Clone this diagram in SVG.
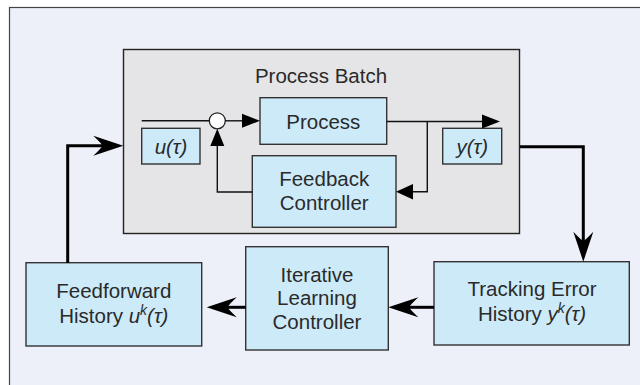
<svg xmlns="http://www.w3.org/2000/svg" width="640" height="385" viewBox="0 0 640 385">
  <style>
    .frame { fill: #edf0f8; stroke: #444; stroke-width: 1.2; }
    .batch { fill: #e5e5e7; stroke: #222; stroke-width: 1.4; }
    .box { fill: #cdeaf9; stroke: #333; stroke-width: 1.4; }
    .sum { fill: #ffffff; stroke: #222; stroke-width: 1.3; }
    text { font-family: "Liberation Sans", Arial, sans-serif; font-size: 20.5px; fill: #2a2a2a; text-anchor: middle; }
    .it { font-style: italic; }
    .sup { font-size: 14px; }
    .thin { fill: none; stroke: #111; stroke-width: 1.4; }
    .thick { fill: none; stroke: #000; stroke-width: 3; }
    .head { fill: #000; stroke: none; }
  </style>

  <!-- background panel -->
  <rect class="frame" x="9.5" y="7.5" width="640" height="390"/>

  <!-- process batch container -->
  <g id="process-batch">
    <rect class="batch" x="123.5" y="49.5" width="396" height="184"/>
    <text x="321" y="83">Process Batch</text>
  </g>

  <g id="summing-junction">
    <circle class="sum" cx="217.3" cy="120.8" r="8"/>
  </g>

  <g id="process">
    <rect class="box" x="260" y="97.7" width="126.7" height="46.6"/>
    <text x="323.3" y="128.5">Process</text>
  </g>

  <g id="feedback-controller">
    <rect class="box" x="252.3" y="155.7" width="143.7" height="71.6"/>
    <text x="324.2" y="186">Feedback</text>
    <text x="324.2" y="210">Controller</text>
  </g>

  <g id="u-label">
    <rect class="box" x="141.7" y="128.3" width="58.3" height="35.7"/>
    <text class="it" x="171" y="154">u(τ)</text>
  </g>

  <g id="y-label">
    <rect class="box" x="442.7" y="128.3" width="59" height="35.7"/>
    <text class="it" x="472.2" y="154">y(τ)</text>
  </g>

  <g id="tracking-error">
    <rect class="box" x="434" y="261.7" width="195.3" height="83.3"/>
    <text x="532" y="295.7">Tracking Error</text>
    <text x="532" y="320.7">History <tspan class="it">y</tspan><tspan class="it sup" dy="-8">k</tspan><tspan class="it" dy="8">(τ)</tspan></text>
  </g>

  <g id="ilc">
    <rect class="box" x="245.7" y="246.7" width="142.6" height="103.3"/>
    <text x="317" y="281.7">Iterative</text>
    <text x="317" y="305.3">Learning</text>
    <text x="317" y="329">Controller</text>
  </g>

  <g id="feedforward">
    <rect class="box" x="26" y="262.7" width="175.7" height="83.3"/>
    <text x="113.8" y="298.3">Feedforward</text>
    <text x="113.8" y="323.3">History <tspan class="it">u</tspan><tspan class="it sup" dy="-8">k</tspan><tspan class="it" dy="8">(τ)</tspan></text>
  </g>

  <!-- signal connectors with their arrowheads -->
  <g id="connectors">
    <!-- inner loop: thin lines, solid triangular heads -->
    <path class="thin" d="M141.7,120.8 H209.3"/>
    <path class="thin" d="M225.3,120.8 H246"/>
    <path class="head" d="M260,120.8 L242,113.8 L242,127.8 Z"/>
    <path class="thin" d="M386.7,121.5 H486"/>
    <path class="head" d="M500,121.5 L482,114.5 L482,128.5 Z"/>
    <path class="thin" d="M427.3,121.5 V191.7 H410"/>
    <path class="head" d="M396,191.7 L413,184 L413,199.4 Z"/>
    <path class="thin" d="M252.3,192 H217.3 V143"/>
    <path class="head" d="M217.3,128.8 L210.3,146 L224.3,146 Z"/>

    <!-- batch-to-batch loop: heavy lines, barbed heads -->
    <path class="thick" d="M520,146.7 H583.3 V243"/>
    <path class="head" d="M583.3,261.7 L573.3,231.7 Q581.8,240.7 583.3,240.7 Q584.8,240.7 593.3,231.7 Z"/>
    <path class="thick" d="M434,307.3 H407"/>
    <path class="head" d="M388.3,307.3 L418.3,297.3 Q409.3,305.8 409.3,307.3 Q409.3,308.8 418.3,317.3 Z"/>
    <path class="thick" d="M245.7,307.3 H225"/>
    <path class="head" d="M206.7,307.3 L236.7,297.3 Q227.7,305.8 227.7,307.3 Q227.7,308.8 236.7,317.3 Z"/>
    <path class="thick" d="M67.7,262.7 V145.7 H105"/>
    <path class="head" d="M123.3,145.7 L93.3,135.7 Q102.3,144.2 102.3,145.7 Q102.3,147.2 93.3,155.7 Z"/>
  </g>
</svg>
